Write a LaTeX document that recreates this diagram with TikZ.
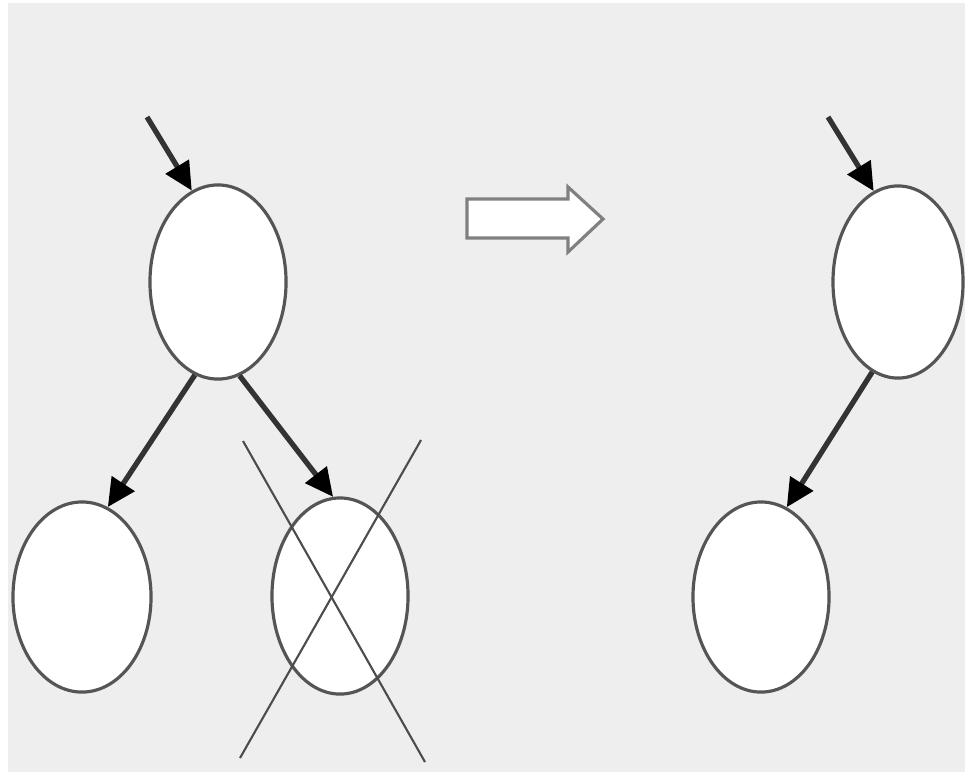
\documentclass[tikz,border=0pt]{standalone}
\usetikzlibrary{shapes.geometric,arrows.meta}
\definecolor{bggray}{HTML}{EEEEEE}
\definecolor{edgegray}{HTML}{555555}
\definecolor{linkgray}{HTML}{333333}
\begin{document}
\begin{tikzpicture}[x=0.01cm,y=-0.01cm,
  treenode/.style={ellipse,draw=edgegray,line width=0.9pt,fill=white,inner sep=0pt},
  link/.style={draw=linkgray,line width=1.5pt,-{Triangle[length=8pt,width=7.5pt,color=black]}},
  crossline/.style={draw=black!70,line width=0.6pt}]
\useasboundingbox (0,0) rectangle (965,772);
\fill[white] (0,0) rectangle (965,772);
\fill[bggray] (8,3) rectangle (965,772);
% nodes
\node[treenode,minimum width=1.36cm,minimum height=1.94cm] (r1) at (218,282) {};
\node[treenode,minimum width=1.38cm,minimum height=1.90cm] (c1) at (82,597) {};
\node[treenode,minimum width=1.36cm,minimum height=1.96cm] (c2) at (340,596) {};
\node[treenode,minimum width=1.30cm,minimum height=1.92cm] (r2) at (898,282) {};
\node[treenode,minimum width=1.36cm,minimum height=1.90cm] (c3) at (761,597) {};
% free ends
\coordinate (in1) at (147,117);
\coordinate (in2) at (828,117);
% connectors
\draw[link] (in1) -- (r1.106);
\draw[link] (r1.256) -- (c1.74);
\draw[link] (r1.283) -- (c2.94);
\draw[link] (in2) -- (r2.105);
\draw[link] (r2.254) -- (c3.74);
% cross
\coordinate (x1a) at (243,441);
\coordinate (x1b) at (425,762);
\coordinate (x2a) at (421,440);
\coordinate (x2b) at (240,758);
\draw[crossline] (x1a) -- (x1b);
\draw[crossline] (x2a) -- (x2b);
% hollow block arrow
\draw[draw=gray,line width=0.9pt,fill=white,line join=miter]
  (467,199) -- (568,199) -- (568,187) -- (603,219) -- (568,252) -- (568,238) -- (467,238) -- cycle;
\end{tikzpicture}
\end{document}
